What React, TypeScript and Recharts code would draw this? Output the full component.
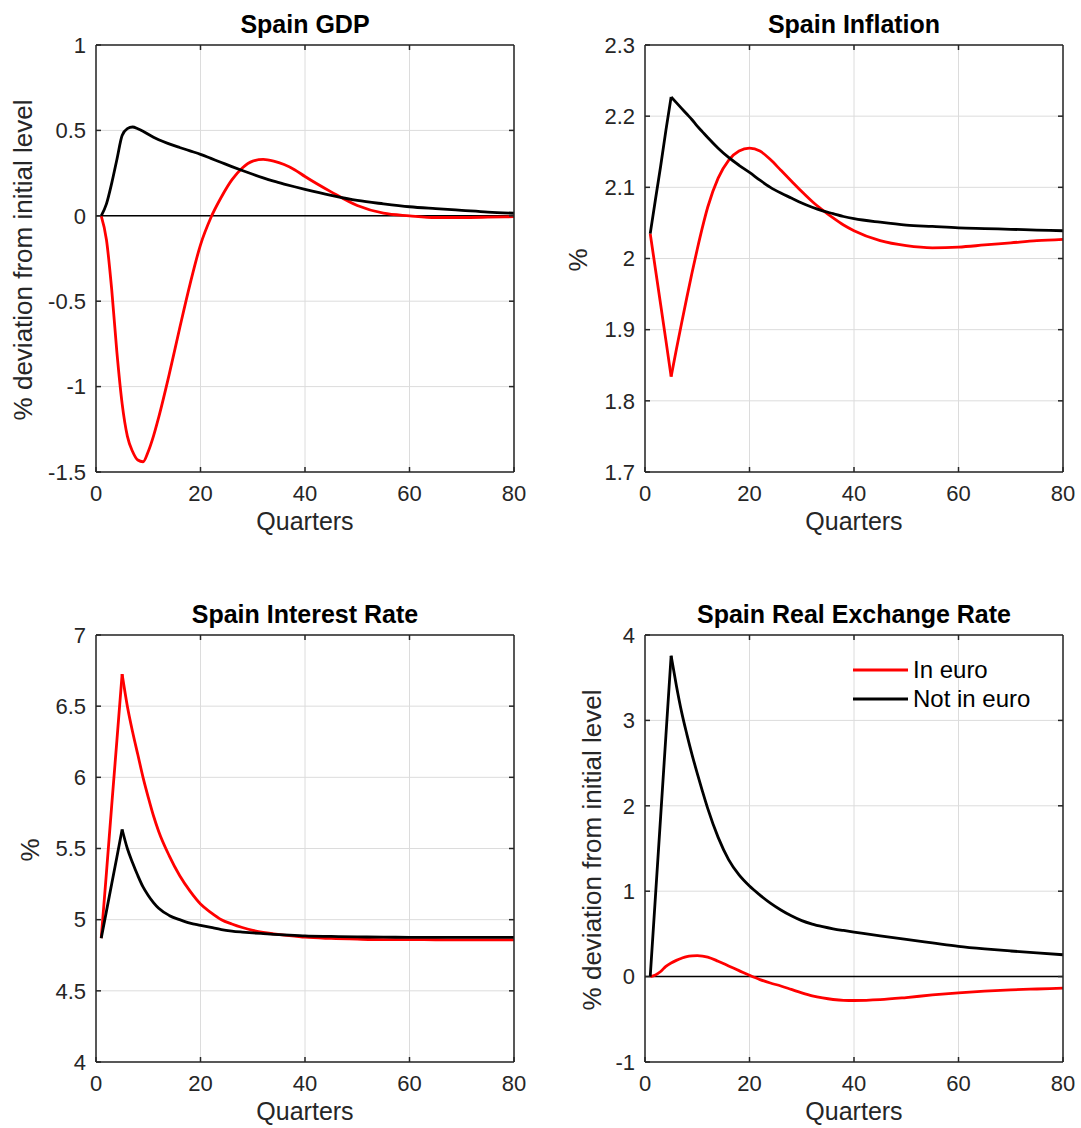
import React from 'react';
import { LineChart, Line, XAxis, YAxis, CartesianGrid, ReferenceLine, Legend } from 'recharts';

// quarters after the shock
const quarters = [1, 2, 3, 4, 5, 6, 7, 8, 9, 10, 11, 12, 14, 16, 18, 20, 22, 24, 26, 28, 30, 32, 34, 36, 38, 40, 45, 50, 55, 60, 65, 70, 75, 80];

const gdpInEuro = [0, -0.14, -0.43, -0.8, -1.1, -1.29, -1.38, -1.43, -1.44, -1.38, -1.29, -1.18, -0.93, -0.66, -0.4, -0.17, -0.01, 0.11, 0.21, 0.28, 0.32, 0.33, 0.32, 0.3, 0.27, 0.23, 0.14, 0.06, 0.015, 0, -0.01, -0.01, -0.008, -0.005];
const gdpNotInEuro = [0, 0.07, 0.19, 0.33, 0.47, 0.51, 0.52, 0.51, 0.495, 0.477, 0.46, 0.445, 0.421, 0.4, 0.38, 0.36, 0.336, 0.312, 0.288, 0.265, 0.243, 0.222, 0.203, 0.186, 0.17, 0.155, 0.12, 0.09, 0.07, 0.053, 0.042, 0.032, 0.022, 0.015];

const inflationInEuro = [2.035, 1.985, 1.935, 1.885, 1.834, 1.872, 1.909, 1.945, 1.98, 2.013, 2.044, 2.072, 2.113, 2.138, 2.151, 2.155, 2.151, 2.139, 2.124, 2.109, 2.094, 2.08, 2.068, 2.057, 2.047, 2.039, 2.025, 2.018, 2.015, 2.016, 2.019, 2.022, 2.025, 2.027];
const inflationNotInEuro = [2.035, 2.083, 2.13, 2.18, 2.227, 2.219, 2.211, 2.203, 2.195, 2.186, 2.178, 2.17, 2.155, 2.142, 2.131, 2.121, 2.11, 2.1, 2.092, 2.085, 2.078, 2.072, 2.067, 2.063, 2.059, 2.056, 2.051, 2.047, 2.045, 2.043, 2.042, 2.041, 2.04, 2.039];

const rateInEuro = [4.87, 5.33, 5.8, 6.26, 6.725, 6.5, 6.32, 6.16, 6.0, 5.86, 5.73, 5.62, 5.45, 5.31, 5.2, 5.11, 5.05, 5.0, 4.97, 4.945, 4.925, 4.91, 4.9, 4.892, 4.885, 4.877, 4.868, 4.863, 4.86, 4.86, 4.859, 4.858, 4.858, 4.858];
const rateNotInEuro = [4.87, 5.06, 5.25, 5.44, 5.634, 5.5, 5.4, 5.31, 5.23, 5.17, 5.12, 5.08, 5.03, 5.0, 4.975, 4.96, 4.945, 4.93, 4.92, 4.913, 4.907, 4.902, 4.897, 4.893, 4.89, 4.886, 4.882, 4.879, 4.877, 4.876, 4.875, 4.875, 4.875, 4.875];

const rerInEuro = [0, 0.02, 0.06, 0.12, 0.16, 0.19, 0.215, 0.235, 0.243, 0.245, 0.24, 0.228, 0.18, 0.125, 0.07, 0.015, -0.035, -0.075, -0.11, -0.15, -0.19, -0.225, -0.25, -0.268, -0.278, -0.28, -0.27, -0.245, -0.215, -0.19, -0.17, -0.155, -0.145, -0.135];
const rerNotInEuro = [0, 0.94, 1.88, 2.82, 3.757, 3.41, 3.1, 2.84, 2.6, 2.38, 2.17, 1.97, 1.63, 1.37, 1.19, 1.06, 0.955, 0.86, 0.78, 0.712, 0.655, 0.615, 0.585, 0.56, 0.54, 0.522, 0.477, 0.435, 0.395, 0.355, 0.325, 0.3, 0.277, 0.256];

const xTicks = [0, 20, 40, 60, 80];
const gdpTicks = [-1.5, -1, -0.5, 0, 0.5, 1];
const inflationTicks = [1.7, 1.8, 1.9, 2, 2.1, 2.2, 2.3];
const rateTicks = [4, 4.5, 5, 5.5, 6, 6.5, 7];
const rerTicks = [-1, 0, 1, 2, 3, 4];

// the shock peaks at quarter 5: lines with a sharp corner there
const cornerQuarter = 5;

const font = "'Liberation Sans', Arial, Helvetica, sans-serif";
const axisColor = '#262626';
const plotW = 418;
const plotH = 427;

type Row = { q: number; euro: number; notEuro: number };

function buildRows(euro: number[], notEuro: number[]): Row[] {
  return quarters.map((q, i) => ({ q, euro: euro[i], notEuro: notEuro[i] }));
}

type PanelProps = {
  left: number;
  top: number;
  title: string;
  yLabel: string;
  yLabelX: number;
  rows: Row[];
  yTicks: number[];
  euroCorner?: boolean;
  notEuroCorner?: boolean;
  zeroLine?: boolean;
  legend?: boolean;
};

function LegendBox({ payload }: any) {
  const items = (payload || []).filter((e: any) => e.type !== 'none');
  return (
    <div>
      {items.map((e: any) => (
        <div key={e.value} style={{ display: 'flex', alignItems: 'center', height: 28.6 }}>
          <svg width={55} height={4}>
            <line x1={0} y1={2} x2={55} y2={2} stroke={e.color} strokeWidth={2.8} />
          </svg>
          <span style={{ marginLeft: 5, fontSize: 24, color: '#000', fontFamily: font, whiteSpace: 'nowrap' }}>{e.value}</span>
        </div>
      ))}
    </div>
  );
}

function seriesLines(key: 'euro' | 'notEuro', name: string, color: string, corner?: boolean) {
  const common = { stroke: color, strokeWidth: 2.8, dot: false, activeDot: false, isAnimationActive: false } as const;
  if (!corner) {
    return [<Line key={key} type="monotone" dataKey={key} name={name} {...common} />];
  }
  return [
    <Line key={key + 'a'} type="linear" dataKey={(r: Row) => (r.q <= cornerQuarter ? r[key] : null)} name={name + ' (rise)'} legendType="none" {...common} />,
    <Line key={key + 'b'} type="monotone" dataKey={(r: Row) => (r.q >= cornerQuarter ? r[key] : null)} name={name} {...common} />,
  ];
}

function Panel({ left, top, title, yLabel, yLabelX, rows, yTicks, euroCorner, notEuroCorner, zeroLine, legend }: PanelProps) {
  const yMin = yTicks[0];
  const yMax = yTicks[yTicks.length - 1];
  const tickLenY = ((yMax - yMin) * 5) / plotH;
  const tickLenX = (80 * 5) / plotW;
  const tickStyle = { fill: axisColor, fontSize: 22, fontFamily: font };
  const lineStyle = { stroke: axisColor, strokeWidth: 1.5 };
  return (
    <div style={{ position: 'absolute', left, top, width: 540, height: 560 }}>
      <LineChart width={540} height={540} data={rows} margin={{ top: 45, right: 26, bottom: 38, left: 46 }}>
        <CartesianGrid stroke="#dcdcdc" strokeWidth={1} />
        <XAxis
          dataKey="q"
          type="number"
          domain={[0, 80]}
          ticks={xTicks}
          interval={0}
          height={30}
          tick={tickStyle}
          tickSize={-5}
          tickMargin={18}
          axisLine={lineStyle}
          tickLine={lineStyle}
        />
        <YAxis
          type="number"
          domain={[yMin, yMax]}
          ticks={yTicks}
          interval={0}
          width={50}
          tick={tickStyle}
          tickSize={-5}
          tickMargin={15}
          axisLine={lineStyle}
          tickLine={lineStyle}
        />
        {zeroLine && <ReferenceLine y={0} stroke="#000" strokeWidth={1.5} />}
        {seriesLines('euro', 'In euro', '#ff0000', euroCorner)}
        {seriesLines('notEuro', 'Not in euro', '#000000', notEuroCorner)}
        <ReferenceLine y={yMax} stroke={axisColor} strokeWidth={1.5} />
        <ReferenceLine x={80} stroke={axisColor} strokeWidth={1.5} />
        {xTicks.slice(1, -1).map((t) => (
          <ReferenceLine key={'tx' + t} segment={[{ x: t, y: yMax }, { x: t, y: yMax - tickLenY }]} stroke={axisColor} strokeWidth={1.5} />
        ))}
        {yTicks.slice(1, -1).map((t) => (
          <ReferenceLine key={'ty' + t} segment={[{ x: 80, y: t }, { x: 80 - tickLenX, y: t }]} stroke={axisColor} strokeWidth={1.5} />
        ))}
        {legend && (
          <Legend
            layout="vertical"
            align="center"
            verticalAlign="middle"
            wrapperStyle={{ left: 304, top: 66, width: 230 }}
            content={LegendBox}
          />
        )}
      </LineChart>
      <div style={{ position: 'absolute', left: 105, top: 23.5 - 15, width: 400, height: 30, lineHeight: '30px', textAlign: 'center', fontSize: 25, fontWeight: 'bold', color: '#000', fontFamily: font }}>
        {title}
      </div>
      <div style={{ position: 'absolute', left: 105, top: 521 - 15, width: 400, height: 30, lineHeight: '30px', textAlign: 'center', fontSize: 25, color: axisColor, fontFamily: font }}>
        Quarters
      </div>
      <div style={{ position: 'absolute', left: yLabelX - 200, top: 260 - 15, width: 400, height: 30, lineHeight: '30px', textAlign: 'center', fontSize: 26, color: axisColor, fontFamily: font, transform: 'rotate(-90deg)', whiteSpace: 'nowrap' }}>
        {yLabel}
      </div>
    </div>
  );
}

export default function App() {
  return (
    <div style={{ position: 'absolute', left: 0, top: 0, width: 1081, height: 1128, background: '#fff', fontFamily: font }}>
      <Panel left={0} top={0} title="Spain GDP" yLabel="% deviation from initial level" yLabelX={23} rows={buildRows(gdpInEuro, gdpNotInEuro)} yTicks={gdpTicks} zeroLine />
      <Panel left={549} top={0} title="Spain Inflation" yLabel="%" yLabelX={29} rows={buildRows(inflationInEuro, inflationNotInEuro)} yTicks={inflationTicks} euroCorner notEuroCorner />
      <Panel left={0} top={590} title="Spain Interest Rate" yLabel="%" yLabelX={30} rows={buildRows(rateInEuro, rateNotInEuro)} yTicks={rateTicks} euroCorner notEuroCorner />
      <Panel left={549} top={590} title="Spain Real Exchange Rate" yLabel="% deviation from initial level" yLabelX={43} rows={buildRows(rerInEuro, rerNotInEuro)} yTicks={rerTicks} notEuroCorner zeroLine legend />
    </div>
  );
}
